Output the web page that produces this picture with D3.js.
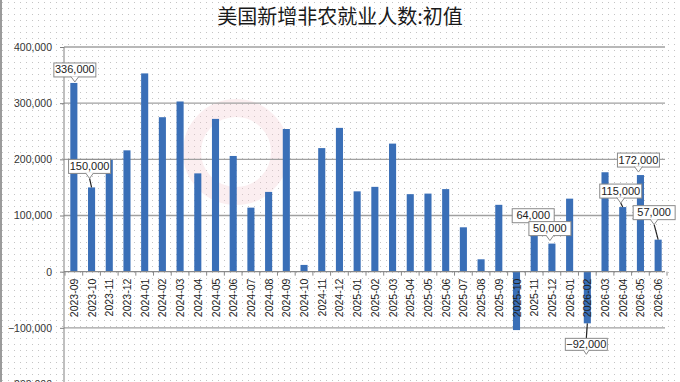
<!DOCTYPE html>
<html>
<head>
<meta charset="utf-8">
<script src="https://cdn.jsdelivr.net/npm/d3@7"></script>
<style>
  body { margin: 0; background: #fff; }
  svg { display: block; }
</style>
</head>
<body>
<svg width="680" height="382"></svg>
<script>
const months = [
  "2023-09", "2023-10", "2023-11", "2023-12",
  "2024-01", "2024-02", "2024-03", "2024-04", "2024-05", "2024-06",
  "2024-07", "2024-08", "2024-09", "2024-10", "2024-11", "2024-12",
  "2025-01", "2025-02", "2025-03", "2025-04", "2025-05", "2025-06",
  "2025-07", "2025-08", "2025-09", "2025-10", "2025-11", "2025-12",
  "2026-01", "2026-02", "2026-03", "2026-04", "2026-05", "2026-06"
];
const payrolls = [
  336000, 150000, 199000, 216000,
  353000, 275000, 303000, 175000, 272000, 206000,
  114000, 142000, 254000, 12000, 220000, 256000,
  143000, 151000, 228000, 138000, 139000, 147000,
  79000, 22000, 119000, -104000, 64000, 50000,
  130000, -92000, 177000, 115000, 172000, 57000
];
const labelled = ["2023-09", "2023-10", "2025-11", "2025-12", "2026-02", "2026-04", "2026-05", "2026-06"];
const yTicks = [-200000, -100000, 0, 100000, 200000, 300000, 400000];
const title = "美国新增非农就业人数:初值";

const data = months.map((m, i) => ({ month: m, value: payrolls[i] }));

const svg = d3.select("svg");
const width = +svg.attr("width");
const height = +svg.attr("height");

const left = 65, right = 667;
const barColor = "#3a6fb7";
const fmt = d3.format(",");

// dotted background
const defs = svg.append("defs");
const pat = defs.append("pattern")
  .attr("id", "dots")
  .attr("width", 6)
  .attr("height", 6)
  .attr("patternUnits", "userSpaceOnUse");
pat.append("rect").attr("x", 2).attr("y", 2).attr("width", 1).attr("height", 1).attr("fill", "#c4c4c4");

svg.append("rect").attr("width", width).attr("height", height).attr("fill", "#fff");
svg.append("rect").attr("width", width).attr("height", height).attr("fill", "url(#dots)");
svg.append("line")
  .attr("x1", 1).attr("x2", 1).attr("y1", 0).attr("y2", height)
  .attr("stroke", "#9a9a9a").attr("stroke-width", 2);

const x = d3.scaleBand()
  .domain(months)
  .range([left, right])
  .paddingInner(0.6)
  .paddingOuter(0.3);

const y = d3.scaleLinear()
  .domain([-200000, 400000])
  .range([384, 47]);

// faint watermark
svg.append("circle")
  .attr("cx", 236).attr("cy", 152).attr("r", 44)
  .attr("fill", "none")
  .attr("stroke", "#f3c6cc")
  .attr("stroke-width", 18)
  .attr("opacity", 0.3);

// gridlines
svg.append("g")
  .selectAll("line")
  .data(yTicks.filter(d => d !== 0))
  .join("line")
  .attr("x1", left - 1).attr("x2", right - 2)
  .attr("y1", d => y(d)).attr("y2", d => y(d))
  .attr("stroke", "#a0a0a0")
  .attr("stroke-width", 1.3);

// y axis
const yAxis = svg.append("g")
  .attr("transform", `translate(${left - 1},0)`)
  .call(d3.axisLeft(y).tickValues(yTicks).tickFormat(fmt).tickSize(4).tickPadding(8));
yAxis.select(".domain").attr("stroke", "#808080").attr("d", `M0,${y(400000)}V${height}`);
yAxis.selectAll(".tick line").attr("stroke", "#808080");
yAxis.selectAll(".tick text")
  .attr("fill", "#333")
  .style("font-family", "'Liberation Sans', Arial, sans-serif")
  .style("font-size", "10.5px");

// bars
svg.append("g")
  .selectAll("rect")
  .data(data)
  .join("rect")
  .attr("x", d => x(d.month))
  .attr("width", x.bandwidth())
  .attr("y", d => y(Math.max(0, d.value)))
  .attr("height", d => Math.abs(y(d.value) - y(0)))
  .attr("fill", barColor);

// zero axis with category ticks
const step = x.step();
svg.append("line")
  .attr("x1", left - 1).attr("x2", right - 2)
  .attr("y1", y(0)).attr("y2", y(0))
  .attr("stroke", "#8a8a8a").attr("stroke-width", 1.3);
svg.append("g")
  .selectAll("line")
  .data(d3.range(months.length + 1))
  .join("line")
  .attr("x1", k => left + step * k).attr("x2", k => left + step * k)
  .attr("y1", y(0)).attr("y2", y(0) + 4)
  .attr("stroke", "#8a8a8a");

// month labels
svg.append("g")
  .selectAll("text")
  .data(months)
  .join("text")
  .attr("transform", m => `translate(${x(m) + x.bandwidth() / 2 + 4},${y(0) + 7}) rotate(-90)`)
  .attr("text-anchor", "end")
  .attr("fill", "#222")
  .style("font-family", "'Liberation Sans', Arial, sans-serif")
  .style("font-size", "10.5px")
  .text(m => m);

// callouts: [dx, dy] of box edge centre relative to bar end
const calloutPos = {
  "2023-09": [1, -6],
  "2023-10": [-2, -14],
  "2025-11": [-1, -13],
  "2025-12": [-2, -8],
  "2026-02": [-1, 15],
  "2026-04": [-2, -9],
  "2026-05": [-2, -8],
  "2026-06": [-4, -20]
};

const callG = svg.append("g");
labelled.forEach(m => {
  const d = data.find(e => e.month === m);
  const bx = x(m) + x.bandwidth() / 2;
  const by = y(d.value);
  const [dx, dy] = calloutPos[m];
  const cx = bx + dx;
  const w = 42, h = 14;
  const g = callG.append("g");
  if (d.value >= 0) {
    const bottom = by + dy;
    const tip = bottom + 5;
    if (by - tip > 3) {
      g.append("line")
        .attr("x1", cx).attr("y1", tip).attr("x2", bx).attr("y2", by)
        .attr("stroke", "#222").attr("stroke-width", 1.2);
    }
    g.append("rect")
      .attr("x", cx - w / 2).attr("y", bottom - h)
      .attr("width", w).attr("height", h)
      .attr("fill", "#fff").attr("stroke", "#8a8a8a");
    g.append("path")
      .attr("d", `M${cx - 4},${bottom - 0.5}L${cx},${tip}L${cx + 4},${bottom - 0.5}`)
      .attr("fill", "#fff").attr("stroke", "#8a8a8a");
    g.append("text")
      .attr("x", cx).attr("y", bottom - 3.5)
      .attr("text-anchor", "middle")
      .attr("fill", "#222")
      .style("font-family", "'Liberation Sans', Arial, sans-serif")
      .style("font-size", "11px")
      .text(fmt(d.value));
  } else {
    const top = by + dy;
    g.append("line")
      .attr("x1", bx).attr("y1", by).attr("x2", cx).attr("y2", top)
      .attr("stroke", "#222").attr("stroke-width", 1.2);
    g.append("rect")
      .attr("x", cx - w / 2).attr("y", top)
      .attr("width", w).attr("height", h - 2)
      .attr("fill", "#fff").attr("stroke", "#8a8a8a");
    g.append("path")
      .attr("d", `M${cx - 3},${top + h - 2.5}L${cx},${top + h + 2}L${cx + 3},${top + h - 2.5}`)
      .attr("fill", "#fff").attr("stroke", "#8a8a8a");
    g.append("text")
      .attr("x", cx).attr("y", top + h - 4)
      .attr("text-anchor", "middle")
      .attr("fill", "#222")
      .style("font-family", "'Liberation Sans', Arial, sans-serif")
      .style("font-size", "11px")
      .text(fmt(d.value));
  }
});

// title
svg.append("text")
  .attr("x", 340).attr("y", 24)
  .attr("text-anchor", "middle")
  .attr("fill", "#1a1a1a")
  .style("font-family", "'Noto Sans CJK SC', sans-serif")
  .style("font-size", "20px")
  .text(title);
</script>
</body>
</html>
